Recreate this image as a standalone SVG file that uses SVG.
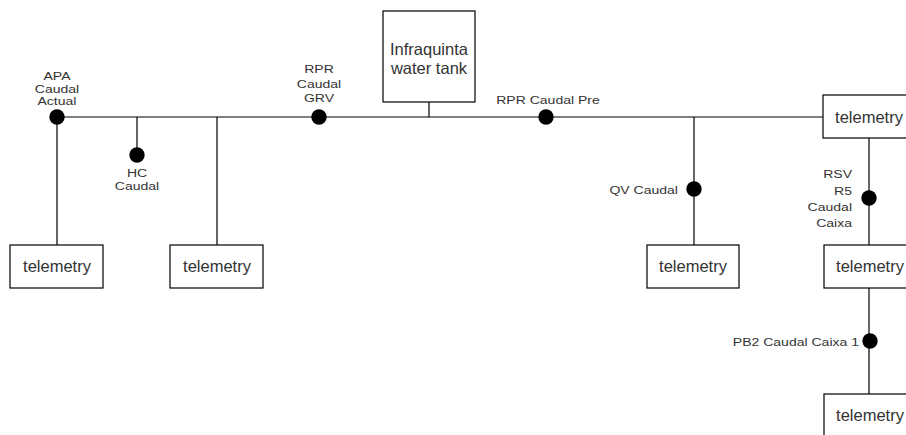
<svg xmlns="http://www.w3.org/2000/svg" width="906" height="435" viewBox="0 0 906 435">
<style>
.box{fill:#fff;stroke:#000;stroke-width:1.2}
.ln{stroke:#000;stroke-width:1.2;fill:none}
.dot{fill:#000}
.bt{font-family:"Liberation Sans",Arial,sans-serif;font-size:16.5px;fill:#333;text-anchor:middle}
.lb{font-family:"Liberation Sans",Arial,sans-serif;font-size:11.5px;fill:#333}
.c{text-anchor:middle}
.r{text-anchor:end}
</style>
<rect width="906" height="435" fill="#fff"/>
<g id="connectors">
<path class="ln" d="M57 117H823"/>
<path class="ln" d="M57 117V245"/>
<path class="ln" d="M137 117V155"/>
<path class="ln" d="M217 117V245"/>
<path class="ln" d="M429 102V117"/>
<path class="ln" d="M694 117V245"/>
<path class="ln" d="M869 138V245"/>
<path class="ln" d="M869 288V394"/>
</g>
<g id="tank">
<rect class="box" x="383" y="11" width="92" height="91"/>
<text class="bt" x="429" y="55">Infraquinta</text>
<text class="bt" x="429" y="74">water tank</text>
</g>
<g id="tel1">
<rect class="box" x="10" y="245" width="93" height="43"/>
<text class="bt" x="57" y="272">telemetry</text>
</g>
<g id="tel2">
<rect class="box" x="170" y="245" width="93" height="43"/>
<text class="bt" x="217" y="272">telemetry</text>
</g>
<g id="tel3">
<rect class="box" x="647" y="245" width="92" height="43"/>
<text class="bt" x="693" y="272">telemetry</text>
</g>
<g id="tel4">
<rect class="box" x="823" y="95" width="93" height="43"/>
<text class="bt" x="869" y="122.5">telemetry</text>
</g>
<g id="tel5">
<rect class="box" x="824" y="245" width="93" height="43"/>
<text class="bt" x="870" y="272">telemetry</text>
</g>
<g id="tel6">
<rect class="box" x="824" y="394" width="93" height="43"/>
<text class="bt" x="870" y="421">telemetry</text>
</g>
<g id="apa">
<circle class="dot" cx="57" cy="117" r="7.7"/>
<text class="lb c" transform="translate(57 80) scale(1.22 1)">APA</text>
<text class="lb c" transform="translate(57 92.5) scale(1.22 1)">Caudal</text>
<text class="lb c" transform="translate(57 105) scale(1.22 1)">Actual</text>
</g>
<g id="hc">
<circle class="dot" cx="137" cy="155" r="7.7"/>
<text class="lb c" transform="translate(137 177) scale(1.22 1)">HC</text>
<text class="lb c" transform="translate(137 190) scale(1.22 1)">Caudal</text>
</g>
<g id="rprgrv">
<circle class="dot" cx="319" cy="117" r="7.7"/>
<text class="lb c" transform="translate(319 73) scale(1.22 1)">RPR</text>
<text class="lb c" transform="translate(319 88) scale(1.22 1)">Caudal</text>
<text class="lb c" transform="translate(319 102) scale(1.22 1)">GRV</text>
</g>
<g id="rprpre">
<circle class="dot" cx="546" cy="117" r="7.7"/>
<text class="lb c" transform="translate(548 104) scale(1.22 1)">RPR Caudal Pre</text>
</g>
<g id="qv">
<circle class="dot" cx="694" cy="189" r="7.7"/>
<text class="lb r" transform="translate(678 194) scale(1.22 1)">QV Caudal</text>
</g>
<g id="rsv">
<circle class="dot" cx="869" cy="198" r="7.7"/>
<text class="lb r" transform="translate(852 178) scale(1.22 1)">RSV</text>
<text class="lb r" transform="translate(852 195) scale(1.22 1)">R5</text>
<text class="lb r" transform="translate(852 211) scale(1.22 1)">Caudal</text>
<text class="lb r" transform="translate(852 227) scale(1.22 1)">Caixa</text>
</g>
<g id="pb2">
<circle class="dot" cx="870" cy="341" r="7.7"/>
<text class="lb r" transform="translate(859 346) scale(1.22 1)">PB2 Caudal Caixa 1</text>
</g>
</svg>
